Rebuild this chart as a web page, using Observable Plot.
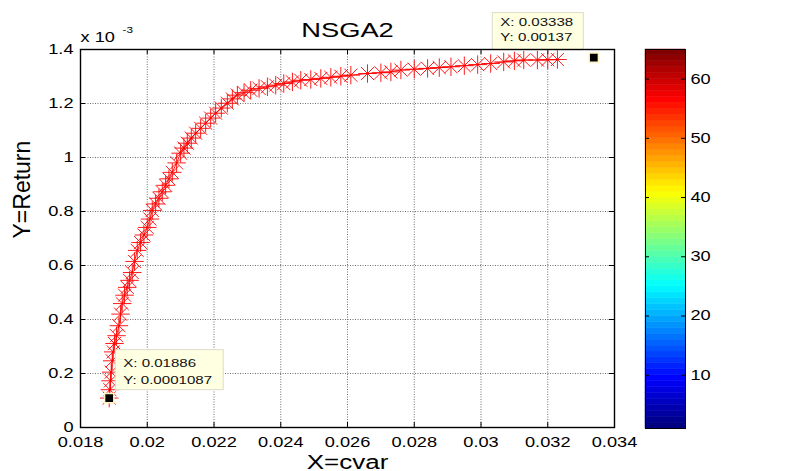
<!DOCTYPE html>
<html><head><meta charset="utf-8">
<script src="https://cdn.jsdelivr.net/npm/d3@7"></script>
<script src="https://cdn.jsdelivr.net/npm/@observablehq/plot@0.6"></script>
<style>
body{margin:0;background:#fff;}
#wrap{position:relative;width:800px;height:471px;overflow:hidden;background:#fff;}
#wrap svg{position:absolute;top:0;}
</style></head><body><div id="wrap"></div>
<script>
// ---- data ----
const cvar = [0.01886,0.01888,0.01890,0.01892,0.01895,0.01898,0.01902,0.01908,0.01915,0.01920,0.01925,0.01932,0.01940,0.01947,0.01955,0.01962,0.01970,0.01980,0.01990,0.02000,0.02008,0.02015,0.02025,0.02035,0.02045,0.02055,0.02065,0.02075,0.02088,0.02100,0.02110,0.02120,0.02132,0.02145,0.02160,0.02175,0.02190,0.02205,0.02222,0.02240,0.02255,0.02270,0.02290,0.02310,0.02335,0.02360,0.02385,0.02409,0.02435,0.02460,0.02490,0.02520,0.02550,0.02580,0.02610,0.02660,0.02700,0.02730,0.02760,0.02800,0.02840,0.02875,0.02910,0.02950,0.02990,0.03029,0.03068,0.03100,0.03128,0.03169,0.03200,0.03229];
// returns in units of 10^-3
const returnE3 = [0.109,0.140,0.173,0.205,0.247,0.280,0.311,0.340,0.377,0.420,0.459,0.490,0.519,0.545,0.574,0.615,0.656,0.685,0.713,0.741,0.772,0.804,0.828,0.849,0.873,0.897,0.921,0.945,0.980,1.016,1.035,1.053,1.072,1.090,1.108,1.127,1.146,1.164,1.183,1.201,1.217,1.231,1.240,1.249,1.256,1.262,1.268,1.274,1.280,1.286,1.289,1.293,1.297,1.301,1.305,1.311,1.314,1.317,1.324,1.327,1.330,1.333,1.336,1.340,1.344,1.348,1.354,1.358,1.361,1.361,1.362,1.363];
const tipX = [0.01886, 0.03338];
const tipY = [0.0001087, 0.00137];
const xTicks = [0.018,0.020,0.022,0.024,0.026,0.028,0.030,0.032,0.034];
const yTicks = [0,0.2,0.4,0.6,0.8,1.0,1.2,1.4];
const cbTicks = [10,20,30,40,50,60];
const cbLevels = d3.range(1, 65); // 64 colormap rows (jet)
const titleText = "NSGA2", xLabel = "X=cvar", yLabel = "Y=Return";

// ---- styling ----
const FONT = "'Liberation Sans', Arial, sans-serif";
const STRETCH = 1.3;
const W = 800, H = 471;
const mL = 80, mR = 186, mT = 49, mB = 44;
const fw = W - mL - mR, fh = H - mT - mB;

function jet(t){
  const c = v => Math.max(0, Math.min(1, v));
  return d3.rgb(255*c(1.5-Math.abs(4*t-3)), 255*c(1.5-Math.abs(4*t-2)), 255*c(1.5-Math.abs(4*t-1))).formatHex();
}

const pts = cvar.map((x,i)=>({x, y: returnE3[i]}));
const tips = tipX.map((x,i)=>({x, y: tipY[i]*1e3, l1: `X: ${x}`, l2: `Y: ${tipY[i]}`}));

const tipStyle = [
  {dx: 6.5, dy: -48, w: 108, h: 40, b1: 17.5, b2: 34},
  {dx: -101, dy: -44.5, w: 91, h: 37, b1: 13.5, b2: 28.5}
];
function tipBoxes(index, scales){
  const g = d3.create("svg:g").attr("text-anchor", "start");
  tips.forEach((d,i)=>{
    const s = tipStyle[i];
    const px = scales.x(d.x), py = scales.y(d.y);
    const b = g.append("g").attr("transform", `translate(${px+s.dx},${py+s.dy})`);
    b.append("rect").attr("width", s.w).attr("height", s.h).attr("fill", "#ffffe1").attr("stroke", "#dcdccb");
    b.append("text").attr("x", 8).attr("y", s.b1).attr("font-size", 11.6).attr("text-anchor","start").attr("fill","#111").text(d.l1);
    b.append("text").attr("x", 8).attr("y", s.b2).attr("font-size", 11.6).attr("text-anchor","start").attr("fill","#111").text(d.l2);
  });
  return g.node();
}

const main = Plot.plot({
  width: W, height: H,
  marginLeft: mL, marginRight: mR, marginTop: mT, marginBottom: mB,
  style: {fontFamily: FONT, fontSize: "14px", color: "#000", background: "transparent"},
  x: {domain: [0.018, 0.034], ticks: xTicks, tickFormat: d => String(Math.round(d*1000)/1000), tickSize: 0, tickPadding: 9.5, label: null},
  y: {domain: [0, 1.4], ticks: yTicks, tickFormat: d => String(Math.round(d*10)/10), tickSize: 0, tickPadding: 7, label: null},
  marks: [
    Plot.ruleX(xTicks.slice(1,-1), {x: d=>d, stroke: "#555", strokeOpacity: 0.85, strokeDasharray: "1,1.5"}),
    Plot.ruleY(yTicks.slice(1,-1), {y: d=>d, stroke: "#555", strokeOpacity: 0.85, strokeDasharray: "1,1.5"}),
    Plot.tickX(xTicks, {x: d=>d, insetTop: fh-5, stroke: "#000"}),
    Plot.tickX(xTicks, {x: d=>d, insetBottom: fh-5, stroke: "#000"}),
    Plot.tickY(yTicks, {y: d=>d, insetRight: fw-5, stroke: "#000"}),
    Plot.tickY(yTicks, {y: d=>d, insetLeft: fw-5, stroke: "#000"}),
    Plot.line(pts, {x: "x", y: "y", stroke: "#ff0000", strokeWidth: 0.9}),
    Plot.dot(pts, {x: "x", y: "y", symbol: "plus", r: 6, stroke: "#ff0000", strokeWidth: 0.9}),
    Plot.dot(pts, {x: "x", y: "y", symbol: "times", r: 6, stroke: "#ff0000", strokeWidth: 0.9}),
    Plot.dot(tips, {x: "x", y: "y", symbol: "square", r: 5.2, fill: "#000", stroke: "#fff5c0", strokeWidth: 1.5}),
    tipBoxes,
    Plot.frame({stroke: "#000", strokeWidth: 1.4}),
    Plot.text([titleText], {text: d=>d, frameAnchor: "top", lineAnchor: "bottom", dy: -12.3, fontSize: 21}),
    Plot.text(["x 10"], {text: d=>d, frameAnchor: "top-left", textAnchor: "start", lineAnchor: "bottom", dy: -7.3, fontSize: 14}),
    Plot.text(["-3"], {text: d=>d, frameAnchor: "top-left", textAnchor: "start", lineAnchor: "bottom", dx: 42, dy: -17, fontSize: 9}),
    Plot.text([xLabel], {text: d=>d, frameAnchor: "bottom", lineAnchor: "bottom", dy: 41, fontSize: 20}),
    Plot.text([yLabel], {text: d=>d, frameAnchor: "left", rotate: -90, dx: -58, fontSize: 23})
  ]
});

const cb = Plot.plot({
  width: 200, height: H,
  marginLeft: 45, marginRight: 115, marginTop: 49, marginBottom: 43,
  style: {fontFamily: FONT, fontSize: "14px", color: "#000", background: "transparent"},
  y: {domain: [1, 65], ticks: cbTicks, tickSize: 0, tickPadding: 5, label: null, axis: "right"},
  marks: [
    Plot.rect(cbLevels, {y1: d=>d, y2: d=>d+1, fill: d=>jet((d-1)/63), stroke: d=>jet((d-1)/63), strokeWidth: 0.5}),
    Plot.tickY(cbTicks, {y: d=>d, insetRight: 36, stroke: "#000"}),
    Plot.tickY(cbTicks, {y: d=>d, insetLeft: 36, stroke: "#000"}),
    Plot.frame({stroke: "#000", strokeWidth: 1})
  ]
});

const wrap = document.getElementById("wrap");
main.style.left = "0px";
cb.style.left = "600px";
wrap.appendChild(main);
wrap.appendChild(cb);

function stretch(svg){
  svg.querySelectorAll("text").forEach(t=>{
    if (t.textContent === yLabel) return;
    const L = t.getComputedTextLength();
    if (L > 0){ t.setAttribute("textLength", L*STRETCH); t.setAttribute("lengthAdjust", "spacingAndGlyphs"); }
  });
}
stretch(main); stretch(cb);
</script>
</body></html>
